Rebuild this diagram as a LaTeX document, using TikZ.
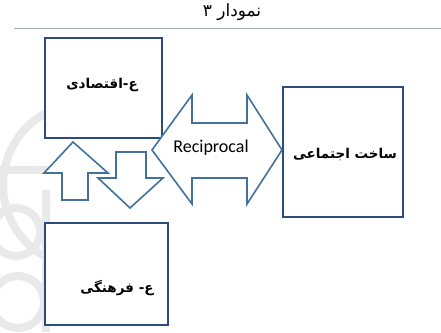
\documentclass[tikz,border=0pt]{standalone}
\usepackage{fontspec}
\setmainfont{DejaVu Sans}
\newfontfamily\arabicfont[Script=Arabic]{DejaVu Sans}
\newfontfamily\latfont{Carlito}
\TeXXeTstate=1
\definecolor{boxblue}{HTML}{2B4C7E}
\definecolor{arrblue}{HTML}{41719C}
\definecolor{rulecol}{HTML}{A0AAA8}
\begin{document}
\begin{tikzpicture}[x=1pt,y=-1pt,
  boxst/.style={draw=boxblue,line width=2pt,fill=white},
  arrst/.style={draw=arrblue,line width=1.6pt,fill=white,line join=miter},
  artext/.style={font=\arabicfont\bfseries\fontsize{13.5}{15}\selectfont,text=black},
  wm/.style={draw=gray!17,line width=8pt}]
\useasboundingbox (0,0) rectangle (441,332);
% watermark
\begin{scope}
\clip (0,95) rectangle (62,332);
\draw[wm] (85,185) circle (82);
\draw[wm] (0,170) -- (60,170);
\draw[wm] (16,232) circle (24);
\draw[wm] (18,302) circle (26);
\draw[wm] (46,190) -- (46,332);
\end{scope}
% title and rule
\node[font=\arabicfont\fontsize{17}{19}\selectfont] (title) at (232,12) {\beginR نمودار ۳\endR};
\coordinate (ruleL) at (14,28);
\coordinate (ruleR) at (441,28);
\draw[rulecol,line width=1pt] (ruleL) -- (ruleR);
% boxes
\draw[boxst] (45,38) rectangle (162,138);
\node[artext] (econ) at (102,85) {\beginR ع-اقتصادی\endR};
\draw[boxst] (283,87) rectangle (403,217);
\node[artext] (soc) at (345,155) {\beginR ساخت اجتماعی\endR};
\draw[boxst] (45,223) rectangle (168,325);
\node[artext] (cult) at (117,288) {\beginR ع- فرهنگی\endR};
% up arrow
\draw[arrst] (73,142) -- (108,173) -- (88,173) -- (88,200) -- (62,200) -- (62,173) -- (44,173) -- cycle;
% down arrow
\draw[arrst] (116,152) -- (146,152) -- (146,178) -- (163,178) -- (130,208) -- (98,178) -- (116,178) -- cycle;
% double arrow
\draw[arrst] (152,150) -- (192,95) -- (192,123) -- (247,123) -- (247,95) -- (282,150) -- (247,204) -- (247,178) -- (192,178) -- (192,204) -- cycle;
\node[font=\latfont\fontsize{18}{20}\selectfont,text=black] (recip) at (211,148) {Reciprocal};
\end{tikzpicture}
\end{document}
